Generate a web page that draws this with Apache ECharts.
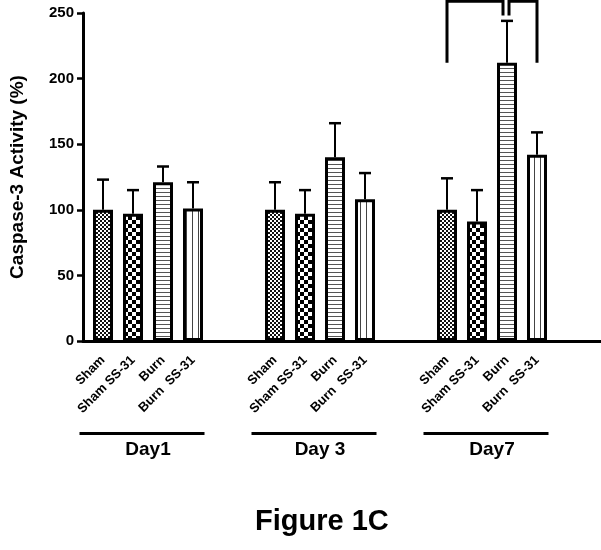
<!DOCTYPE html>
<html>
<head>
<meta charset="utf-8">
<script src="https://cdn.jsdelivr.net/npm/echarts@6/dist/echarts.min.js"></script>
<style>
  html, body { margin: 0; padding: 0; background: #fff; }
  #chart { width: 601px; height: 550px; }
</style>
</head>
<body>
<div id="chart"></div>
<script>
// ---------------- data ----------------
const days = ['Day1', 'Day 3', 'Day7'];
const groups = ['Sham', 'Sham SS-31', 'Burn', 'Burn  SS-31'];
const shamMean   = [100, 100, 100];
const shamSem    = [23, 21, 24];
const shamSSMean = [97, 97, 91];
const shamSSSem  = [18, 18, 24];
const burnMean   = [121, 140, 212];
const burnSem    = [12, 26, 32];
const burnSSMean = [101, 108, 142];
const burnSSSem  = [20, 20, 17];
const yMin = 0, yMax = 250, yStep = 50;
const yTitle = 'Caspase-3 Activity (%)';
const figureTitle = 'Figure 1C';
// significance brackets (day index, from group, to group, leg ends, top)
const bracketDay   = [2, 2];
const bracketFrom  = [0, 2];
const bracketTo    = [2, 3];
const bracketLeftEnd  = [212, 248];
const bracketRightEnd = [248, 212];
const bracketTop   = [259, 259];

// ---------------- styles ----------------
const FONT = "'Liberation Sans', Arial, sans-serif";
const BAR_W = 20;
const GAP_PX = 10;
const means = [shamMean, shamSSMean, burnMean, burnSSMean];
const sems = [shamSem, shamSSSem, burnSem, burnSSSem];

function makePattern(kind) {
  const c = document.createElement('canvas');
  let ctx;
  if (kind === 'fine') {
    c.width = 4; c.height = 4; ctx = c.getContext('2d');
    ctx.fillStyle = '#fff'; ctx.fillRect(0, 0, 4, 4);
    ctx.fillStyle = '#111'; ctx.fillRect(0, 0, 2, 2); ctx.fillRect(2, 2, 2, 2);
  } else if (kind === 'coarse') {
    c.width = 8; c.height = 8; ctx = c.getContext('2d');
    ctx.fillStyle = '#fff'; ctx.fillRect(0, 0, 8, 8);
    ctx.fillStyle = '#000'; ctx.fillRect(0, 0, 4, 4); ctx.fillRect(4, 4, 4, 4);
  } else if (kind === 'h') {
    c.width = 4; c.height = 4; ctx = c.getContext('2d');
    ctx.fillStyle = '#fff'; ctx.fillRect(0, 0, 4, 4);
    ctx.fillStyle = '#555'; ctx.fillRect(0, 0, 4, 1);
  } else {
    c.width = 6; c.height = 6; ctx = c.getContext('2d');
    ctx.fillStyle = '#fff'; ctx.fillRect(0, 0, 6, 6);
    ctx.fillStyle = '#444'; ctx.fillRect(0, 0, 1, 6);
  }
  return { image: c, repeat: 'repeat' };
}
const patterns = [makePattern('fine'), makePattern('coarse'), makePattern('h'), makePattern('v')];

function barOffset(i) {
  return (i - (groups.length - 1) / 2) * (BAR_W + GAP_PX);
}

const series = [];
groups.forEach((g, i) => {
  series.push({
    type: 'bar',
    name: g,
    xAxisIndex: 0, yAxisIndex: 0,
    data: means[i],
    barWidth: BAR_W,
    barGap: (GAP_PX / BAR_W * 100) + '%',
    itemStyle: { color: patterns[i], borderColor: '#000', borderWidth: 3 },
    label: {
      show: true,
      position: 'bottom',
      distance: 17,
      rotate: 45,
      align: 'right',
      verticalAlign: 'middle',
      formatter: () => g,
      color: '#000',
      fontFamily: FONT,
      fontWeight: 'bold',
      fontSize: 13
    },
    z: 3
  });
});
groups.forEach((g, i) => {
  series.push({
    type: 'custom',
    xAxisIndex: 0, yAxisIndex: 0,
    data: days.map((d, j) => [j, means[i][j], sems[i][j]]),
    z: 4,
    renderItem: function (params, api) {
      const base = api.coord([api.value(0), api.value(1)]);
      const top = api.coord([api.value(0), api.value(1) + api.value(2)]);
      const x = base[0] + barOffset(i);
      return {
        type: 'group',
        children: [
          { type: 'line', shape: { x1: x, y1: base[1], x2: x, y2: top[1] },
            style: { stroke: '#000', lineWidth: 2 } },
          { type: 'line', shape: { x1: x - 6, y1: top[1], x2: x + 6, y2: top[1] },
            style: { stroke: '#000', lineWidth: 2.5 } }
        ]
      };
    }
  });
});
series.push({
  type: 'custom',
  xAxisIndex: 0, yAxisIndex: 0,
  clip: false,
  z: 5,
  data: bracketDay.map((d, k) => [d, bracketFrom[k], bracketTo[k], bracketLeftEnd[k], bracketRightEnd[k], bracketTop[k]]),
  renderItem: function (params, api) {
    const day = api.value(0);
    const c = api.coord([day, 0])[0];
    const leftEnd = api.value(3), rightEnd = api.value(4);
    let x1 = c + barOffset(api.value(1));
    let x2 = c + barOffset(api.value(2));
    // short (inner) leg nudged to leave a small gap between adjacent brackets
    if (leftEnd > rightEnd) x1 += 2; else x2 -= 4;
    const yTop = api.coord([day, api.value(5)])[1];
    const yL = api.coord([day, leftEnd])[1];
    const yR = api.coord([day, rightEnd])[1];
    return {
      type: 'polyline',
      shape: { points: [[x1, yL], [x1, yTop], [x2, yTop], [x2, yR]] },
      style: { stroke: '#000', lineWidth: 3, fill: null }
    };
  }
});

const chart = echarts.init(document.getElementById('chart'), null, { renderer: 'canvas' });
chart.setOption({
  animation: false,
  backgroundColor: '#fff',
  title: {
    text: figureTitle,
    left: 250,
    top: 502,
    textStyle: { fontFamily: FONT, fontWeight: 'bold', fontSize: 29, color: '#000' }
  },
  grid: [
    { left: 62, width: 516, top: 13, height: 328 },
    { left: 78, right: 0, top: 13, height: 328 }
  ],
  xAxis: [
    {
      type: 'category', gridIndex: 0, data: days,
      axisLine: { show: false }, axisTick: { show: false },
      axisLabel: {
        margin: 91,
        interval: 0,
        formatter: v => '{line|}{sp|}\n{day|' + v + '}',
        rich: {
          line: { width: 125, height: 3, lineHeight: 3, backgroundColor: '#000' },
          sp: { width: 12, height: 3, lineHeight: 3 },
          day: { fontFamily: FONT, fontWeight: 'bold', fontSize: 19, color: '#000', lineHeight: 30 }
        }
      }
    },
    {
      type: 'value', gridIndex: 1, min: 0, max: 1,
      axisLine: { show: true, lineStyle: { color: '#000', width: 3 } },
      axisTick: { show: false }, axisLabel: { show: false }, splitLine: { show: false }
    }
  ],
  yAxis: [
    {
      type: 'value', gridIndex: 0, min: yMin, max: yMax, interval: yStep,
      show: false, splitLine: { show: false }
    },
    {
      type: 'value', gridIndex: 1, min: yMin, max: yMax, interval: yStep,
      name: yTitle,
      nameLocation: 'middle',
      nameGap: 56,
      nameTextStyle: { fontFamily: FONT, fontWeight: 'bold', fontSize: 19, color: '#000' },
      axisLine: { show: true, lineStyle: { color: '#000', width: 3 } },
      axisTick: { show: true, length: 6, lineStyle: { color: '#000', width: 2.5 } },
      axisLabel: { fontFamily: FONT, fontWeight: 'bold', fontSize: 15, color: '#000', margin: 9 },
      splitLine: { show: false }
    }
  ],
  series: series
});
</script>
</body>
</html>
